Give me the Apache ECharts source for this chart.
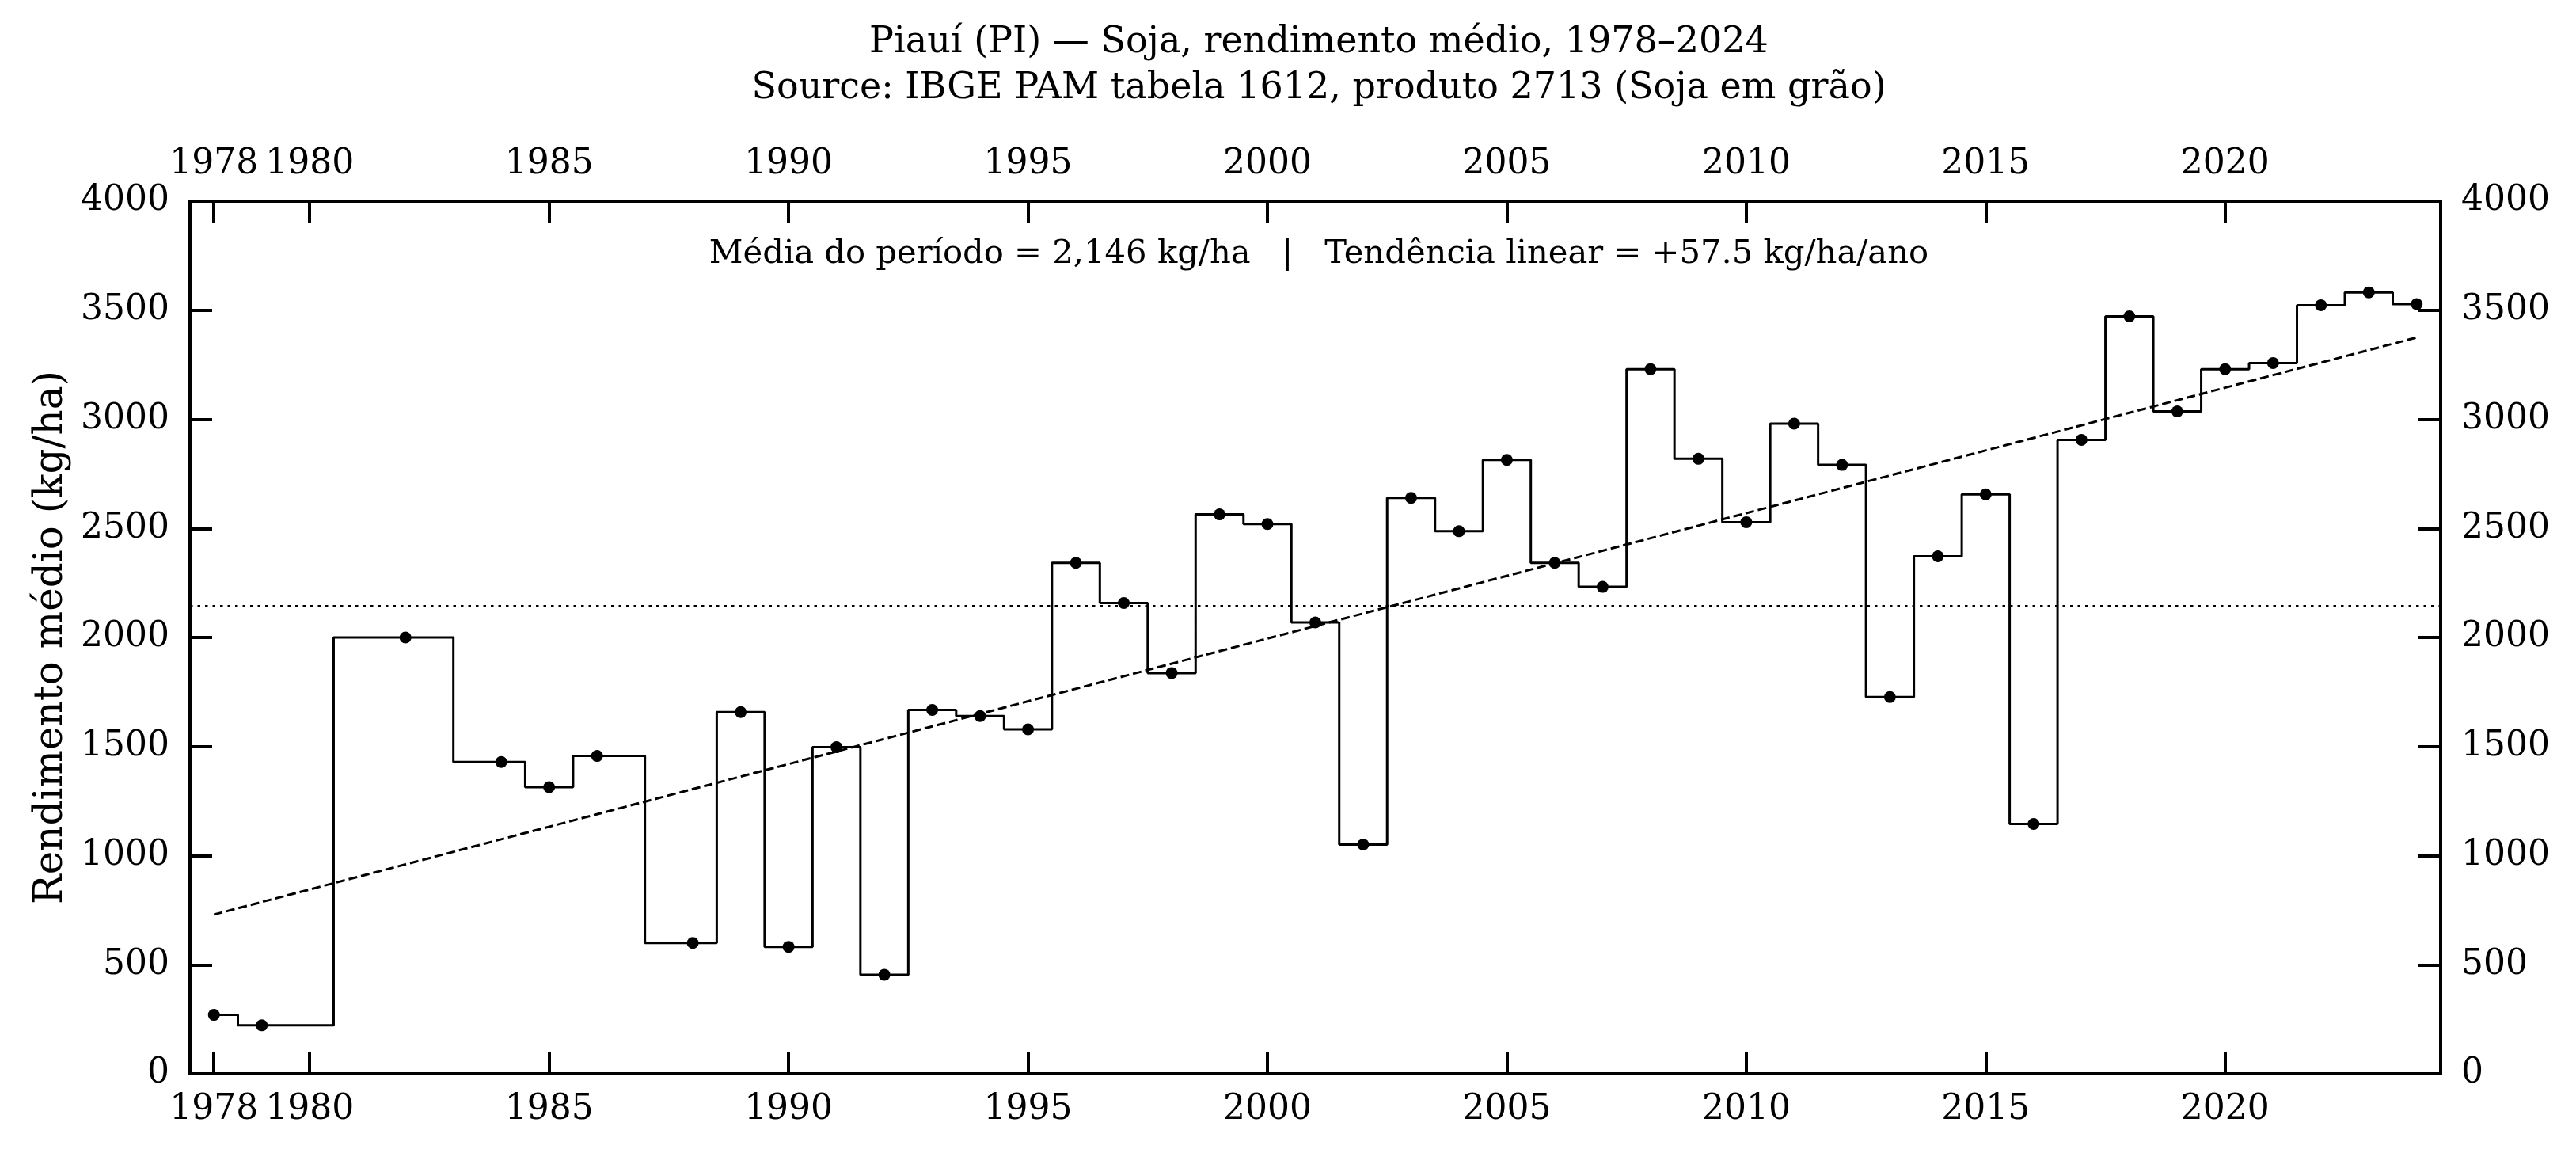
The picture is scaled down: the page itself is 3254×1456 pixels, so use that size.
<!DOCTYPE html>
<html>
<head>
<meta charset="utf-8">
<script src="https://cdn.jsdelivr.net/npm/echarts@6/dist/echarts.min.js"></script>
<style>
html,body{margin:0;padding:0;background:#fff;}
#wrap{position:relative;width:3254px;height:1456px;background:#fff;}
#chart,#ticksA,#ticksB{position:absolute;left:0;top:0;width:3254px;height:1456px;}
#ticksA,#ticksB{pointer-events:none;}
</style>
</head>
<body>
<div id="wrap">
  <div id="chart"></div>
  <div id="ticksA"></div>
  <div id="ticksB"></div>
</div>
<script>
const years = [1978,1979,1982,1984,1985,1986,1988,1989,1990,1991,1992,1993,1994,1995,1996,1997,1998,1999,2000,2001,2002,2003,2004,2005,2006,2007,2008,2009,2010,2011,2012,2013,2014,2015,2016,2017,2018,2019,2020,2021,2022,2023,2024];
const yieldKgHa = [270,222,2000,1429,1314,1457,600,1658,582,1497,454,1668,1640,1579,2342,2158,1837,2564,2520,2069,1051,2640,2487,2814,2342,2232,3230,2819,2528,2980,2791,1727,2372,2656,1145,2906,3472,3036,3230,3258,3523,3582,3528];
const meanValue = 2146;
const trendYears = [1978, 2024];
const trendValues = [730, 3375];
const xTickYears = [1978,1980,1985,1990,1995,2000,2005,2010,2015,2020];
const titleLines = ['Piauí (PI) — Soja, rendimento médio, 1978–2024', 'Source: IBGE PAM tabela 1612, produto 2713 (Soja em grão)'];
const annotationText = 'Média do período = 2,146 kg/ha   |   Tendência linear = +57.5 kg/ha/ano';
const yAxisName = 'Rendimento médio (kg/ha)';

const X_MIN = 1977.5, X_MAX = 2024.5, Y_MIN = 0, Y_MAX = 4000, Y_STEP = 500;
const TICK_LEN = 28, TICK_W = 4, SPINE_W = 4;
const GRID = {left: 240, right: 171, top: 254, bottom: 100};
const FONT = '"DejaVu Serif", serif';

/* ---------- main chart: labels, data, reference lines ---------- */
const chart = echarts.init(document.getElementById('chart'), null, {renderer: 'canvas'});

function xAxisDef(pos) {
  return {
    type: 'value', min: X_MIN, max: X_MAX, position: pos,
    splitLine: {show: false},
    axisLine: {show: true, onZero: false, lineStyle: {color: '#000', width: SPINE_W}},
    axisTick: {show: true, inside: true, length: TICK_LEN, customValues: xTickYears, lineStyle: {color: '#000', width: TICK_W}},
    axisLabel: {show: true, customValues: xTickYears, color: '#000', fontFamily: FONT, fontSize: 44, margin: 24, formatter: v => String(v)}
  };
}
function yAxisDef(pos) {
  return {
    type: 'value', min: Y_MIN, max: Y_MAX, interval: Y_STEP, position: pos,
    splitLine: {show: false},
    axisLine: {show: true, onZero: false, lineStyle: {color: '#000', width: SPINE_W}},
    axisTick: {show: true, inside: true, length: TICK_LEN, lineStyle: {color: '#000', width: TICK_W}},
    axisLabel: {show: true, color: '#000', fontFamily: FONT, fontSize: 44, margin: 26, formatter: v => String(v)}
  };
}
const yLeft = yAxisDef('left');
Object.assign(yLeft, {name: yAxisName, nameLocation: 'middle', nameGap: 150, nameRotate: 90,
  nameTextStyle: {fontFamily: FONT, fontSize: 50, color: '#000'}});

chart.setOption({
  animation: false,
  title: [
    {
      text: titleLines.join('\n'),
      left: 1661, top: 20, textAlign: 'center',
      textStyle: {fontFamily: FONT, fontSize: 46, fontWeight: 'normal', color: '#000', lineHeight: 58}
    },
    {
      text: annotationText,
      left: 1661, top: 295, textAlign: 'center',
      textStyle: {fontFamily: FONT, fontSize: 41.7, fontWeight: 'normal', color: '#000'}
    }
  ],
  grid: Object.assign({}, GRID),
  xAxis: [xAxisDef('bottom'), xAxisDef('top')],
  yAxis: [yLeft, yAxisDef('right')],
  series: [
    {
      type: 'line', xAxisIndex: 0, yAxisIndex: 0,
      data: years.map((y, i) => [y, yieldKgHa[i]]),
      step: 'middle',
      symbol: 'circle', symbolSize: 15, showAllSymbol: true,
      itemStyle: {color: '#000'},
      lineStyle: {color: '#000', width: 3},
      z: 3,
      markLine: {
        silent: true, symbol: ['none', 'none'], label: {show: false},
        lineStyle: {color: '#000', width: 3, type: [3.5, 6]},
        data: [{yAxis: meanValue}]
      }
    },
    {
      type: 'line', xAxisIndex: 0, yAxisIndex: 0,
      data: trendYears.map((y, i) => [y, trendValues[i]]),
      symbol: 'none',
      lineStyle: {color: '#000', width: 3, type: [11, 5]},
      z: 2
    }
  ]
});

/* ---------- transparent overlays: frame + inward ticks, one axis pair each ---------- */
function tickOverlay(el, xPos, yPos) {
  const c = echarts.init(el, null, {renderer: 'canvas'});
  c.setOption({
    animation: false,
    backgroundColor: 'transparent',
    grid: Object.assign({}, GRID),
    xAxis: {
      type: 'value', min: X_MIN, max: X_MAX, position: xPos,
      splitLine: {show: false},
      axisLine: {show: true, onZero: xPos === 'bottom', lineStyle: {color: '#000', width: SPINE_W}},
      axisTick: {show: true, inside: true, length: TICK_LEN, customValues: xTickYears, lineStyle: {color: '#000', width: TICK_W}},
      axisLabel: {show: false}
    },
    yAxis: {
      type: 'value', min: Y_MIN, max: Y_MAX, interval: Y_STEP, position: yPos,
      splitLine: {show: false},
      axisLine: {show: true, lineStyle: {color: '#000', width: SPINE_W}},
      axisTick: {show: true, inside: true, length: TICK_LEN, lineStyle: {color: '#000', width: TICK_W}},
      axisLabel: {show: false}
    },
    series: [{type: 'line', data: [], symbol: 'none', silent: true}]
  });
  return c;
}
tickOverlay(document.getElementById('ticksA'), 'bottom', 'left');
tickOverlay(document.getElementById('ticksB'), 'top', 'right');
</script>
</body>
</html>
